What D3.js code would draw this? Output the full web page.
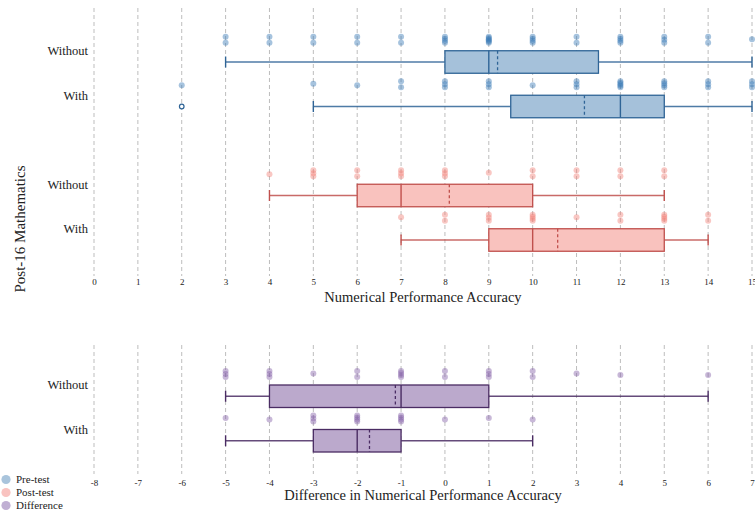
<!DOCTYPE html>
<html><head><meta charset="utf-8">
<script src="https://cdn.jsdelivr.net/npm/d3@7"></script>
<style>body{margin:0;background:#fff}svg{display:block}text{font-family:"Liberation Serif","DejaVu Serif",serif;fill:#222}</style>
</head><body><svg id="c" width="755" height="514"></svg>
<script>
// ---- data ----
const groupLabels = ["Without", "With"];
const topTicks = d3.range(0, 16);
const bottomTicks = d3.range(-8, 8);
const legendLabels = ["Pre-test", "Post-test", "Difference"];

// box stats: [whiskerLow, q1, median, q3, whiskerHigh, mean]
const preWithoutStats  = [3, 8, 9, 11.5, 15, 9.2];
const preWithStats     = [5, 9.5, 12, 13, 15, 11.18];
const postWithoutStats = [4, 6, 7, 10, 13, 8.1];
const postWithStats    = [7, 9, 10, 13, 14, 10.57];
const diffWithoutStats = [-5, -4, -1, 1, 6, -1.13];
const diffWithStats    = [-5, -3, -2, -1, 2, -1.72];

const preWithOutliers = [2];

// individual observations (strip points)
const preWithoutPts = [3,3,4,4,5,5,6,6,7,7,8,8,8,8,9,9,9,9,9,9,10,10,10,10,11,11,12,12,12,12,13,13,13,14,14,15];
const preWithPts    = [2,5,6,7,7,8,8,8,9,9,9,10,11,11,11,12,12,12,12,12,13,13,13,13,14,14,14,15,15,15];
const postWithoutPts = [4,5,5,5,6,6,7,7,7,8,8,8,9,10,10,11,11,12,12,13,13];
const postWithPts    = [7,8,8,9,9,9,10,10,10,10,11,12,12,13,13,13,13,14,14];
const diffWithoutPts = [-5,-5,-5,-4,-4,-4,-3,-2,-2,-1,-1,-1,-1,0,0,1,1,1,2,2,3,4,6];
const diffWithPts    = [-5,-4,-3,-3,-3,-2,-2,-2,-2,-1,-1,-1,-1,0,1,2];

// ---- styles ----
const C = {
  pre:  {pt:"#3a79b6", fill:"#a5c1da", stroke:"#2f6496", legend:"#a9c4dc"},
  post: {pt:"#f2837b", fill:"#f9c2be", stroke:"#c0504d", legend:"#f9c3c0"},
  diff: {pt:"#8461a9", fill:"#bba9cc", stroke:"#4a2c63", legend:"#c0afd3"}
};

const svg = d3.select("#c");
const xTop = d3.scaleLinear().domain([0, 15]).range([94, 752]);
const xBot = d3.scaleLinear().domain([-8, 7]).range([94, 752]);

const yTop = d3.scalePoint().domain(["preWithout","preWith","gap","postWithout","postWith"]).range([50.75, 228.75]);
const yBot = d3.scalePoint().domain(["diffWithout","diffWith"]).range([385, 429.5]);

function grid(x, ticks, y0, y1, ty, title, titleY) {
  const g = svg.append("g");
  g.selectAll("line").data(ticks).join("line")
    .attr("x1", d => x(d)).attr("x2", d => x(d)).attr("y1", y0).attr("y2", y1)
    .attr("stroke", "#bdbdbd").attr("stroke-width", 1).attr("stroke-dasharray", "4,3");
  const ax = svg.append("g").attr("transform", `translate(0,${ty})`)
    .call(d3.axisBottom(x).tickValues(ticks).tickSize(0).tickFormat(d => String(d)));
  ax.select(".domain").remove();
  ax.selectAll("text").attr("font-size", 9).attr("dy", "0.35em").attr("y", 0)
    .style("font-family", '"Liberation Serif",serif').attr("fill", "#222");
  svg.append("text").attr("x", (x.range()[0] + x.range()[1]) / 2).attr("y", titleY)
    .attr("text-anchor", "middle").attr("font-size", 14.5).text(title);
}
grid(xTop, topTicks, 8, 276, 282, "Numerical Performance Accuracy", 301.5);
grid(xBot, bottomTicks, 345, 474, 482.5, "Difference in Numerical Performance Accuracy", 500);

function drawGroup(x, yc, stats, pts, col, outliers) {
  const g = svg.append("g");
  const bc = yc + 11.25, hh = 11.25;
  const [lo, q1, med, q3, hi, mean] = stats;
  // strip points with deterministic vertical spreading of duplicates
  const counts = d3.rollup(pts, v => v.length, d => d);
  const seen = new Map();
  const P = pts.map(v => {
    const k = seen.get(v) || 0; seen.set(v, k + 1);
    const n = counts.get(v);
    const off = n > 1 ? (k - (n - 1) / 2) * (6 / Math.max(n - 1, 1)) : (v % 2 === 0 ? 1 : -0.5);
    return {v, off};
  });
  g.selectAll("circle.p").data(P).join("circle").attr("class", "p")
    .attr("cx", d => x(d.v)).attr("cy", d => yc - 11 + d.off).attr("r", 3)
    .attr("fill", col.pt).attr("fill-opacity", 0.45);
  // whiskers
  g.append("line").attr("x1", x(lo)).attr("x2", x(q1)).attr("y1", bc).attr("y2", bc)
    .attr("stroke", col.stroke).attr("stroke-width", 1.3).attr("stroke-opacity", 0.85);
  g.append("line").attr("x1", x(q3)).attr("x2", x(hi)).attr("y1", bc).attr("y2", bc)
    .attr("stroke", col.stroke).attr("stroke-width", 1.3).attr("stroke-opacity", 0.85);
  [lo, hi].forEach(v => g.append("line").attr("x1", x(v)).attr("x2", x(v))
    .attr("y1", bc - 5.5).attr("y2", bc + 5.5).attr("stroke", col.stroke).attr("stroke-width", 1.4));
  // box
  g.append("rect").attr("x", x(q1)).attr("y", bc - hh).attr("width", x(q3) - x(q1)).attr("height", 2 * hh)
    .attr("fill", col.fill).attr("stroke", col.stroke).attr("stroke-width", 1.3);
  g.append("line").attr("x1", x(med)).attr("x2", x(med)).attr("y1", bc - hh).attr("y2", bc + hh)
    .attr("stroke", col.stroke).attr("stroke-width", 1.4);
  g.append("line").attr("x1", x(mean)).attr("x2", x(mean)).attr("y1", bc - hh).attr("y2", bc + hh)
    .attr("stroke", col.stroke).attr("stroke-width", 1.3).attr("stroke-dasharray", "3,2.5");
  (outliers || []).forEach(v => g.append("circle").attr("cx", x(v)).attr("cy", bc).attr("r", 2.3)
    .attr("fill", "#fff").attr("stroke", col.stroke).attr("stroke-width", 1.2));
}
drawGroup(xTop, yTop("preWithout"), preWithoutStats, preWithoutPts, C.pre);
drawGroup(xTop, yTop("preWith"), preWithStats, preWithPts, C.pre, preWithOutliers);
drawGroup(xTop, yTop("postWithout"), postWithoutStats, postWithoutPts, C.post);
drawGroup(xTop, yTop("postWith"), postWithStats, postWithPts, C.post);
drawGroup(xBot, yBot("diffWithout"), diffWithoutStats, diffWithoutPts, C.diff);
drawGroup(xBot, yBot("diffWith"), diffWithStats, diffWithPts, C.diff);

// category labels
const catPos = [
  [yTop("preWithout"), groupLabels[0]], [yTop("preWith"), groupLabels[1]],
  [yTop("postWithout"), groupLabels[0]], [yTop("postWith"), groupLabels[1]],
  [yBot("diffWithout"), groupLabels[0]], [yBot("diffWith"), groupLabels[1]]
];
svg.selectAll("text.cat").data(catPos).join("text").attr("class", "cat")
  .attr("x", 88).attr("y", d => d[0]).attr("dy", "0.35em").attr("text-anchor", "end")
  .attr("font-size", 12.5).text(d => d[1]);

// y title
svg.append("text").attr("transform", "translate(20,229) rotate(-90)").attr("text-anchor", "middle")
  .attr("dy", "0.35em").attr("font-size", 15).text("Post-16 Mathematics");

// legend
const lg = svg.append("g");
const lc = [C.pre.legend, C.post.legend, C.diff.legend];
legendLabels.forEach((t, i) => {
  lg.append("circle").attr("cx", 6).attr("cy", 479.5 + i * 13).attr("r", 4.6).attr("fill", lc[i]);
  lg.append("text").attr("x", 16).attr("y", 479.5 + i * 13).attr("dy", "0.35em").attr("font-size", 11).text(t);
});
</script></body></html>
